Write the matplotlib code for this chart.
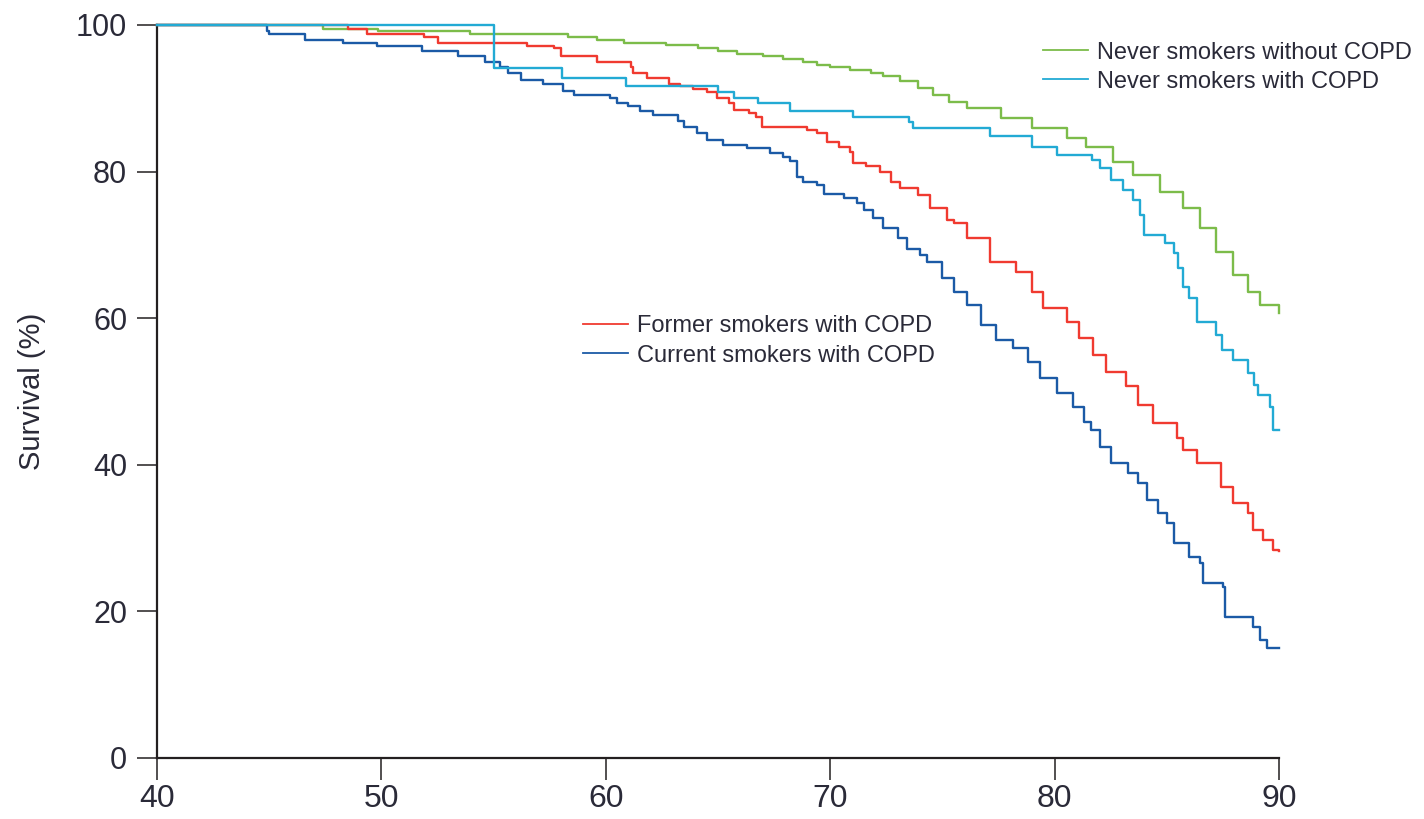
import matplotlib
matplotlib.use("Agg")
import matplotlib.pyplot as plt
from matplotlib.lines import Line2D

plt.rcParams['font.family'] = ['Liberation Sans', 'DejaVu Sans']

# Kaplan-Meier style survival by age
labels = ['Never smokers without COPD', 'Never smokers with COPD',
          'Former smokers with COPD', 'Current smokers with COPD']
colors = ['#7cbc4a', '#22aad4', '#f03a30', '#1b5aa6']

green_age = [40, 47.4, 49.85, 53.95, 58.3, 59.6, 60.8, 62.7, 64.1, 65.0,
             65.85, 67.0, 67.9, 68.8, 69.4, 70.0, 70.9, 71.8, 72.35, 73.1,
             73.9, 74.6, 75.3, 76.1, 77.6, 79.0, 80.55, 81.4, 82.6, 83.5,
             84.7, 85.7, 86.5, 87.2, 87.95, 88.6, 89.15, 90]
green_surv = [100, 99.5, 99.2, 98.8, 98.3, 98.0, 97.5, 97.3, 96.9, 96.5,
              96.1, 95.8, 95.4, 95.0, 94.6, 94.3, 93.9, 93.4, 93.0, 92.3,
              91.4, 90.4, 89.5, 88.7, 87.3, 85.9, 84.6, 83.4, 81.3, 79.5,
              77.2, 75.0, 72.3, 69.0, 65.9, 63.6, 61.8, 60.7]

cyan_age = [40, 55.0, 58.05, 60.9, 65.0, 65.7, 66.8, 68.2, 71.0, 73.5,
            73.7, 77.1, 79.0, 80.1, 81.65, 82.0, 82.5, 83.05, 83.5, 83.8,
            84.0, 84.9, 85.3, 85.5, 85.7, 86.0, 86.35, 87.2, 87.45, 87.95,
            88.6, 88.9, 89.05, 89.6, 89.75, 90]
cyan_surv = [100, 94.1, 92.8, 91.7, 90.9, 90.1, 89.3, 88.3, 87.5, 86.8,
             86.0, 84.9, 83.4, 82.3, 81.6, 80.5, 78.9, 77.5, 76.1, 74.1,
             71.4, 70.3, 68.9, 66.9, 64.3, 62.8, 59.5, 57.7, 55.7, 54.3,
             52.5, 50.9, 49.5, 47.9, 44.7, 44.7]

red_age = [40, 48.5, 49.35, 51.9, 52.5, 56.5, 57.7, 58.0, 59.6, 61.1,
           61.2, 61.85, 62.8, 63.3, 63.9, 64.5, 64.95, 65.5, 65.7, 66.4,
           66.7, 66.95, 68.95, 69.4, 69.85, 70.4, 70.9, 71.0, 71.6, 72.2,
           72.7, 73.1, 73.9, 74.45, 75.2, 75.5, 76.1, 77.1, 78.3, 79.0,
           79.5, 80.55, 81.1, 81.7, 82.3, 83.2, 83.7, 84.4, 85.45, 85.7,
           86.35, 87.4, 87.95, 88.6, 88.85, 89.3, 89.75, 90]
red_surv = [100, 99.5, 98.8, 98.3, 97.6, 97.2, 96.8, 95.7, 95.0, 94.3,
            93.5, 92.8, 92.0, 91.7, 91.3, 90.8, 90.1, 89.4, 88.4, 88.0,
            87.5, 86.1, 85.7, 85.3, 84.1, 83.4, 82.7, 81.2, 80.7, 80.0,
            78.6, 77.7, 76.8, 75.0, 73.4, 73.0, 70.9, 67.7, 66.3, 63.6,
            61.4, 59.5, 57.3, 55.0, 52.7, 50.7, 48.2, 45.7, 43.7, 42.0,
            40.2, 37.0, 34.8, 33.4, 31.1, 29.7, 28.4, 28.2]

blue_age = [40, 44.9, 45.0, 46.6, 48.3, 49.8, 51.8, 53.4, 54.6, 55.3,
            55.65, 56.2, 57.2, 58.1, 58.6, 60.2, 60.5, 61.0, 61.5, 62.1,
            63.2, 63.5, 64.05, 64.5, 65.2, 66.3, 67.3, 67.9, 68.2, 68.5,
            68.8, 69.4, 69.7, 70.6, 71.2, 71.5, 71.9, 72.35, 73.0, 73.4,
            74.0, 74.3, 75.0, 75.5, 76.1, 76.7, 77.4, 78.15, 78.8, 79.35,
            80.1, 80.8, 81.3, 81.6, 82.0, 82.5, 83.25, 83.7, 84.1, 84.6,
            85.0, 85.3, 86.0, 86.5, 86.6, 87.5, 87.6, 88.85, 89.15, 89.45,
            90]
blue_surv = [100, 99.2, 98.8, 98.0, 97.6, 97.2, 96.5, 95.7, 94.9, 94.3,
             93.4, 92.5, 91.9, 91.0, 90.5, 90.0, 89.3, 88.9, 88.2, 87.7,
             86.9, 86.1, 85.2, 84.3, 83.6, 83.2, 82.6, 82.0, 81.4, 79.3,
             78.6, 78.2, 77.0, 76.4, 75.7, 74.8, 73.6, 72.3, 70.9, 69.5,
             68.6, 67.7, 65.5, 63.6, 61.8, 59.1, 57.0, 55.9, 54.0, 51.8,
             49.8, 47.9, 45.8, 44.7, 42.4, 40.2, 38.9, 37.5, 35.2, 33.4,
             32.0, 29.3, 27.4, 26.6, 23.9, 23.3, 19.2, 17.9, 16.1, 15.0,
             15.0]

x_ticks = [40, 50, 60, 70, 80, 90]
y_ticks = [0, 20, 40, 60, 80, 100]

text_col = '#2a2a38'
axis_col = '#231f20'

fig = plt.figure(figsize=(14.24, 8.19), dpi=100)
ax = fig.add_axes([0.1103, 0.0745, 0.7879, 0.8950])

series = [(green_age, green_surv), (red_age, red_surv),
          (blue_age, blue_surv), (cyan_age, cyan_surv)]
order = [0, 2, 3, 1]
for (xs, ys), i in zip(series, order):
    ax.step(xs, ys, where='post', color=colors[i], lw=1.7, clip_on=False,
            zorder=3 if i != 1 else 4)

ax.set_xlim(40, 90)
ax.set_ylim(0, 100)
ax.set_xticks(x_ticks)
ax.set_yticks(y_ticks)
for s in ['top', 'right']:
    ax.spines[s].set_visible(False)
for s in ['left', 'bottom']:
    ax.spines[s].set_color(axis_col)
    ax.spines[s].set_linewidth(1.6)

ax.tick_params(axis='y', direction='out', length=14.5, width=1.1,
               color=axis_col, labelsize=22, labelcolor=text_col, pad=7)
ax.tick_params(axis='x', direction='out', length=16, width=1.1,
               color=axis_col, labelsize=23, labelcolor=text_col, pad=3)

ax.set_ylabel('Survival (%)', fontsize=21, color=text_col)
ax.yaxis.set_label_coords(-0.099, 0.5)

handles = [Line2D([], [], color=c, lw=1.3) for c in colors]
leg1 = fig.legend(handles[:2], labels[:2], loc='upper left',
                  bbox_to_anchor=(0.7325, 0.9493), frameon=False,
                  fontsize=17, handlelength=1.9, handletextpad=0.38,
                  labelspacing=0.3, borderpad=0, borderaxespad=0,
                  labelcolor=text_col)
leg2 = fig.legend(handles[2:], labels[2:], loc='upper left',
                  bbox_to_anchor=(0.4094, 0.6148), frameon=False,
                  fontsize=17, handlelength=1.9, handletextpad=0.38,
                  labelspacing=0.3, borderpad=0, borderaxespad=0,
                  labelcolor=text_col)

fig.savefig('out.png', dpi=100)
